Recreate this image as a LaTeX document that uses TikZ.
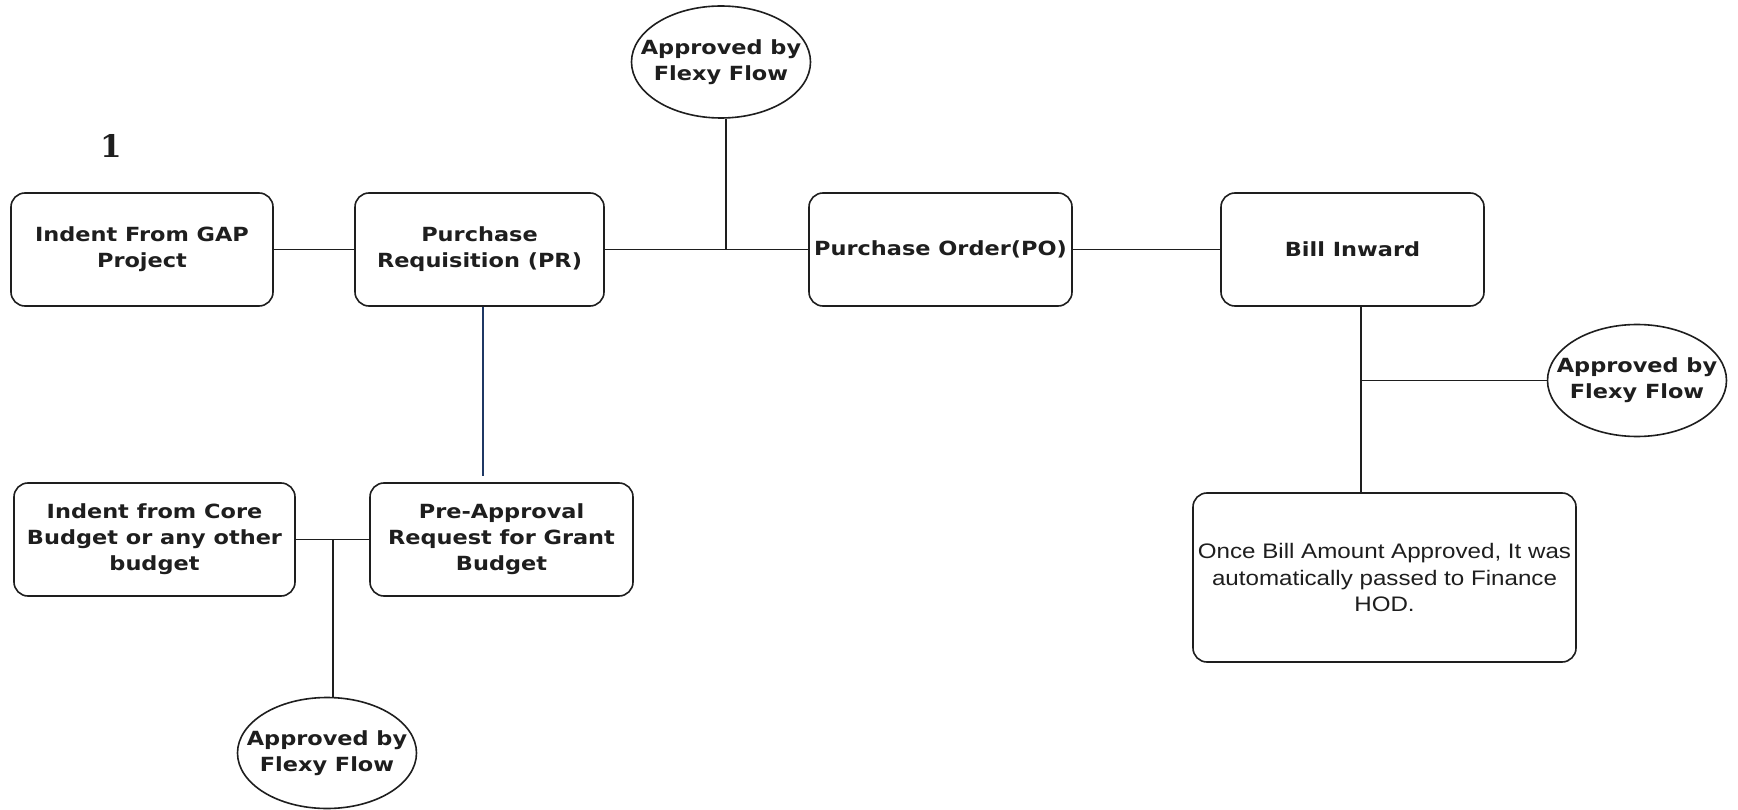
\documentclass[tikz,border=0pt]{standalone}
\usepackage{fontspec}
\usetikzlibrary{shapes.geometric}
\newfontfamily\labfont[FakeStretch=1.15]{DejaVu Sans}
\newfontfamily\bodyfont[FakeStretch=1.15]{Liberation Sans}
\newfontfamily\numfont{DejaVu Serif}
\definecolor{ink}{RGB}{30,30,30}
\definecolor{navy}{RGB}{31,56,100}
\begin{document}
\begin{tikzpicture}[x=1pt,y=-1pt,
  lab/.style={font={\labfont\bfseries\fontsize{19.5}{26}\selectfont},text=ink,align=center},
  box/.style={lab,draw=ink,line width=1.6pt,rounded corners=14pt,inner sep=0pt},
  oval/.style={draw=ink,line width=1.6pt,ellipse,inner sep=0pt,minimum width=179pt,minimum height=112pt,
    label={[lab,inner sep=0pt]center:{Approved by\\Flexy Flow}}},
  conn/.style={draw=ink,line width=1.6pt}]
\useasboundingbox (0,0) rectangle (1738,810);
\fill[white] (0,0) rectangle (1738,810);

\node[font={\numfont\bfseries\fontsize{31}{31}\selectfont},text=ink] (num) at (111,146) {1};

\node[box,minimum width=262pt,minimum height=113pt] (gap) at (142,249.5) {Indent From GAP\\Project};
\node[box,minimum width=249pt,minimum height=113pt] (pr) at (479.5,249.5) {Purchase\\Requisition (PR)};
\node[box,minimum width=263pt,minimum height=113pt] (po) at (940.5,249.5) {Purchase Order(PO)};
\node[box,minimum width=263pt,minimum height=113pt] (bill) at (1352.5,249.5) {Bill Inward};
\node[box,minimum width=383pt,minimum height=169pt,font={\bodyfont\fontsize{21}{26.5}\selectfont}] (once) at (1384.5,577.5) {Once Bill Amount Approved, It was\\automatically passed to Finance\\HOD.};
\node[box,minimum width=281pt,minimum height=113pt] (core) at (154.5,539.5) {Indent from Core\\Budget or any other\\budget};
\node[box,minimum width=263pt,minimum height=113pt] (pre) at (501.5,539.5) {Pre-Approval\\Request for Grant\\Budget};

\node[oval] (top) at (721,62) {};
\node[oval] (right) at (1637,380.5) {};
\node[oval,minimum height=111pt] (bot) at (327,753) {};

% top row connectors
\draw[conn] (gap.east) -- (pr.west);
\draw[conn] (pr.east) -- (po.west);
\coordinate (j1) at (726,249.5);
\draw[conn] (j1) -- (j1 |- top.south);
\draw[conn] (po.east) -- (bill.west);

% bill branch
\coordinate (j2) at (1361,380.5);
\draw[conn] (j2 |- bill.south) -- (j2 |- once.north);
\draw[conn] (j2) -- (right.west);

% PR to pre-approval
\coordinate (pv) at (483,476);
\draw[navy,line width=1.3pt] (pv |- pr.south) -- (pv);

% lower left
\draw[conn] (core.east) -- (pre.west);
\coordinate (j3) at (333,539.5);
\draw[conn] (j3) -- (j3 |- bot.north);
\end{tikzpicture}
\end{document}
